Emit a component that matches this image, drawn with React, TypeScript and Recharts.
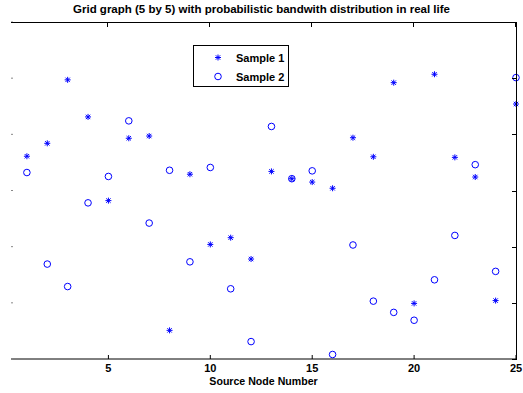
import { Label, Scatter, ScatterChart, XAxis, YAxis } from "recharts";

const nodes = [1, 2, 3, 4, 5, 6, 7, 8, 9, 10, 11, 12, 13, 14, 15, 16, 17, 18, 19, 20, 21, 22, 23, 24, 25];
const sample1 = [3.61, 3.84, 4.97, 4.31, 2.82, 3.93, 3.97, 0.51, 3.29, 2.04, 2.16, 1.78, 3.34, 3.21, 3.15, 3.04, 3.94, 3.6, 4.92, 0.99, 5.07, 3.59, 3.24, 1.04, 4.54];
const sample2 = [3.32, 1.69, 1.29, 2.78, 3.25, 4.24, 2.42, 3.36, 1.73, 3.41, 1.25, 0.31, 4.14, 3.21, 3.35, 0.08, 2.03, 1.03, 0.83, 0.69, 1.41, 2.2, 3.46, 1.56, 5.01];
const xTicks = [5, 10, 15, 20, 25];
const yTicks = [0, 1, 2, 3, 4, 5, 6];

const BLUE = "#0000ff";
const FONT = "'Liberation Sans', Arial, sans-serif";
const X_DOMAIN: [number, number] = [0.22, 25];
const Y_DOMAIN: [number, number] = [0, 6];

// plot box (matlab axes)
const BOX = { left: 11, top: 22, right: 516, bottom: 359 };

const s1 = nodes.map((n, i) => ({ node: n, value: sample1[i] }));
const s2 = nodes.map((n, i) => ({ node: n, value: sample2[i] }));

function Star({ cx, cy }: { cx?: number; cy?: number }) {
  if (cx == null || cy == null) return null;
  const r = 3;
  const d = 2.2;
  return (
    <g stroke={BLUE} strokeWidth={1}>
      <line x1={cx - r} y1={cy} x2={cx + r} y2={cy} />
      <line x1={cx} y1={cy - r} x2={cx} y2={cy + r} />
      <line x1={cx - d} y1={cy - d} x2={cx + d} y2={cy + d} />
      <line x1={cx - d} y1={cy + d} x2={cx + d} y2={cy - d} />
    </g>
  );
}

function Ring({ cx, cy }: { cx?: number; cy?: number }) {
  if (cx == null || cy == null) return null;
  return <circle cx={cx} cy={cy} r={3.3} fill="none" stroke={BLUE} strokeWidth={1} />;
}

const noLabel = () => <g />;

// top and right edges of the box with inward ticks, as plain css boxes
function Frame() {
  const w = BOX.right - BOX.left;
  const h = BOX.bottom - BOX.top;
  const sx = (v: number) => ((v - X_DOMAIN[0]) / (X_DOMAIN[1] - X_DOMAIN[0])) * w;
  const sy = (v: number) => h - ((v - Y_DOMAIN[0]) / (Y_DOMAIN[1] - Y_DOMAIN[0])) * h;
  return (
    <div
      style={{
        position: "absolute",
        left: BOX.left,
        top: BOX.top,
        width: w,
        height: h,
        borderTop: "1px solid #000",
        borderRight: "1px solid #000",
        pointerEvents: "none",
        zIndex: 5,
      }}
    >
      {xTicks.map((t) => (
        <div
          key={"x" + t}
          style={{ position: "absolute", left: Math.round(sx(t)) - 1, top: 0, width: 1, height: 4, background: "#000" }}
        />
      ))}
      {yTicks.map((t) => (
        <div
          key={"y" + t}
          style={{ position: "absolute", left: w - 4, top: Math.round(sy(t)) - 1, width: 4, height: 1, background: "#000" }}
        />
      ))}
    </div>
  );
}

function LegendBox() {
  const row = (label: string, star: boolean) => (
    <div style={{ display: "flex", alignItems: "center", height: 19 }}>
      <svg width={42} height={19}>
        {star ? <Star cx={24} cy={9.5} /> : <Ring cx={24} cy={9.5} />}
      </svg>
      <span>{label}</span>
    </div>
  );
  return (
    <div
      style={{
        position: "absolute",
        left: 193,
        top: 45,
        border: "1px solid #000",
        background: "#fff",
        width: 94,
        height: 38,
        paddingTop: 2,
        fontFamily: FONT,
        fontWeight: "bold",
        fontSize: 11,
        color: "#000",
        zIndex: 6,
      }}
    >
      {row("Sample 1", true)}
      {row("Sample 2", false)}
    </div>
  );
}

export default function App() {
  return (
    <div style={{ position: "absolute", left: 0, top: 0, width: 523, height: 393, background: "#fff" }}>
      <ScatterChart
        width={523}
        height={393}
        margin={{ top: BOX.top, right: 523 - BOX.right, bottom: 0, left: 0 }}
      >
        <XAxis
          dataKey="node"
          type="number"
          domain={X_DOMAIN}
          ticks={xTicks}
          height={393 - BOX.bottom}
          stroke="#000"
          tickSize={-4}
          tickMargin={9}
          tick={{ fill: "#000", fontFamily: FONT, fontWeight: "bold", fontSize: 11 }}
        >
          <Label
            value="Source Node Number"
            position="insideBottom"
            offset={8}
            style={{ fill: "#000", fontFamily: FONT, fontWeight: "bold", fontSize: 10.6 }}
          />
        </XAxis>
        <YAxis
          type="number"
          domain={Y_DOMAIN}
          ticks={yTicks}
          width={BOX.left}
          stroke="#888"
          axisLine={false}
          tickSize={-2}
          tick={noLabel}
        />
        <Scatter
          name="Sample 1"
          data={s1}
          dataKey="value"
          shape={(p: any) => <Star cx={p.cx} cy={p.cy} />}
          isAnimationActive={false}
        />
        <Scatter
          name="Sample 2"
          data={s2}
          dataKey="value"
          shape={(p: any) => <Ring cx={p.cx} cy={p.cy} />}
          isAnimationActive={false}
        />
      </ScatterChart>
      <Frame />
      <div
        style={{
          position: "absolute",
          top: 3,
          left: 0,
          width: 523,
          textAlign: "center",
          fontFamily: FONT,
          fontWeight: "bold",
          fontSize: 11.5,
          color: "#000",
          zIndex: 6,
        }}
      >
        Grid graph (5 by 5) with probabilistic bandwith distribution in real life
      </div>
      <LegendBox />
    </div>
  );
}
